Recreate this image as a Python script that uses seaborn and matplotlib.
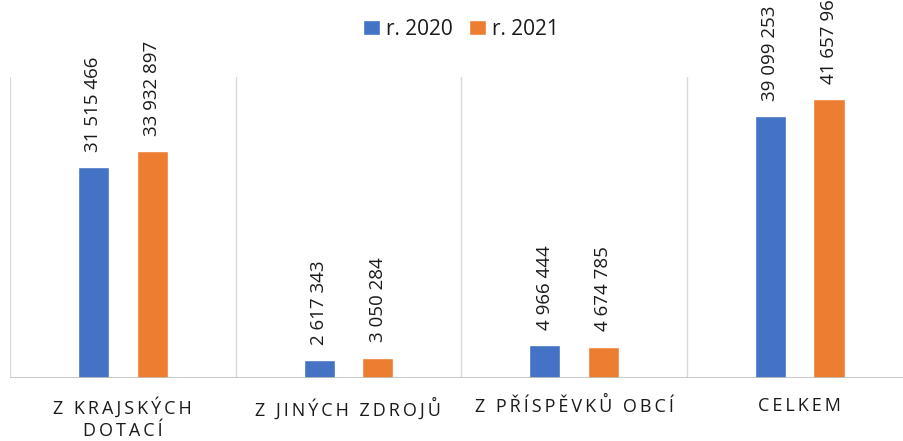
import matplotlib
matplotlib.use("Agg")
import matplotlib.pyplot as plt
import pandas as pd
import seaborn as sns

# data
categories = ["Z KRAJSKÝCH\nDOTACÍ", "Z JINÝCH ZDROJŮ", "Z PŘÍSPĚVKŮ OBCÍ", "CELKEM"]
years = ["r. 2020", "r. 2021"]
r2020 = [31515466, 2617343, 4966444, 39099253]
r2021 = [33932897, 3050284, 4674785, 41657966]
colors = ["#4472C4", "#ED7D31"]

df = pd.DataFrame({
    "kategorie": categories * 2,
    "rok": [years[0]] * 4 + [years[1]] * 4,
    "hodnota": r2020 + r2021,
})

sns.set_style("white")
plt.rcParams["font.family"] = ["Open Sans", "DejaVu Sans"]


def spaced(text):
    # imitate the letter spacing of the category labels
    lines = []
    for line in text.split("\n"):
        words = ["\u2009".join(w) for w in line.split(" ")]
        lines.append("\u2009 \u2009".join(words))
    return "\n".join(lines)


fig = plt.figure(figsize=(9.04, 4.41), dpi=100)
ax = fig.add_axes([10 / 904, 63 / 441, 902.5 / 904, 301 / 441])

sns.barplot(data=df, x="kategorie", y="hodnota", hue="rok", palette=colors,
            saturation=1, width=0.52, gap=0.47, errorbar=None, ax=ax, legend=True)

ax.set_xlim(-0.5, 3.5)
ax.set_ylim(0, 45e6)
for x in [-0.5, 0.5, 1.5, 2.5, 3.5]:
    ax.axvline(x, color="#D9D9D9", lw=1, zorder=0)
ax.axhline(0, color="#BFBFBF", lw=1.2, zorder=3)

for c in ax.containers:
    labels = [f"{int(v):,}".replace(",", " ") for v in c.datavalues]
    ax.bar_label(c, labels=labels, rotation=90, padding=11, fontsize=13.5,
                 color="#1a1a1a", annotation_clip=False)

for s in ax.spines.values():
    s.set_visible(False)
ax.set_yticks([])
ax.set_xlabel("")
ax.set_ylabel("")
ax.set_xticks(range(len(categories)))
ax.set_xticklabels([spaced(c) for c in categories], fontsize=13, color="#1a1a1a",
                   linespacing=1.25)
ax.tick_params(axis="x", length=0, pad=14)

handles, labels = ax.get_legend_handles_labels()
ax.legend_.remove()
fig.legend(handles, labels, loc="upper center", bbox_to_anchor=(0.51, 1.0),
           ncol=2, frameon=False, fontsize=15, handlelength=0.8,
           handleheight=0.8, handletextpad=0.3, columnspacing=0.8,
           labelcolor="#1a1a1a")

fig.savefig("out.png", dpi=100)
